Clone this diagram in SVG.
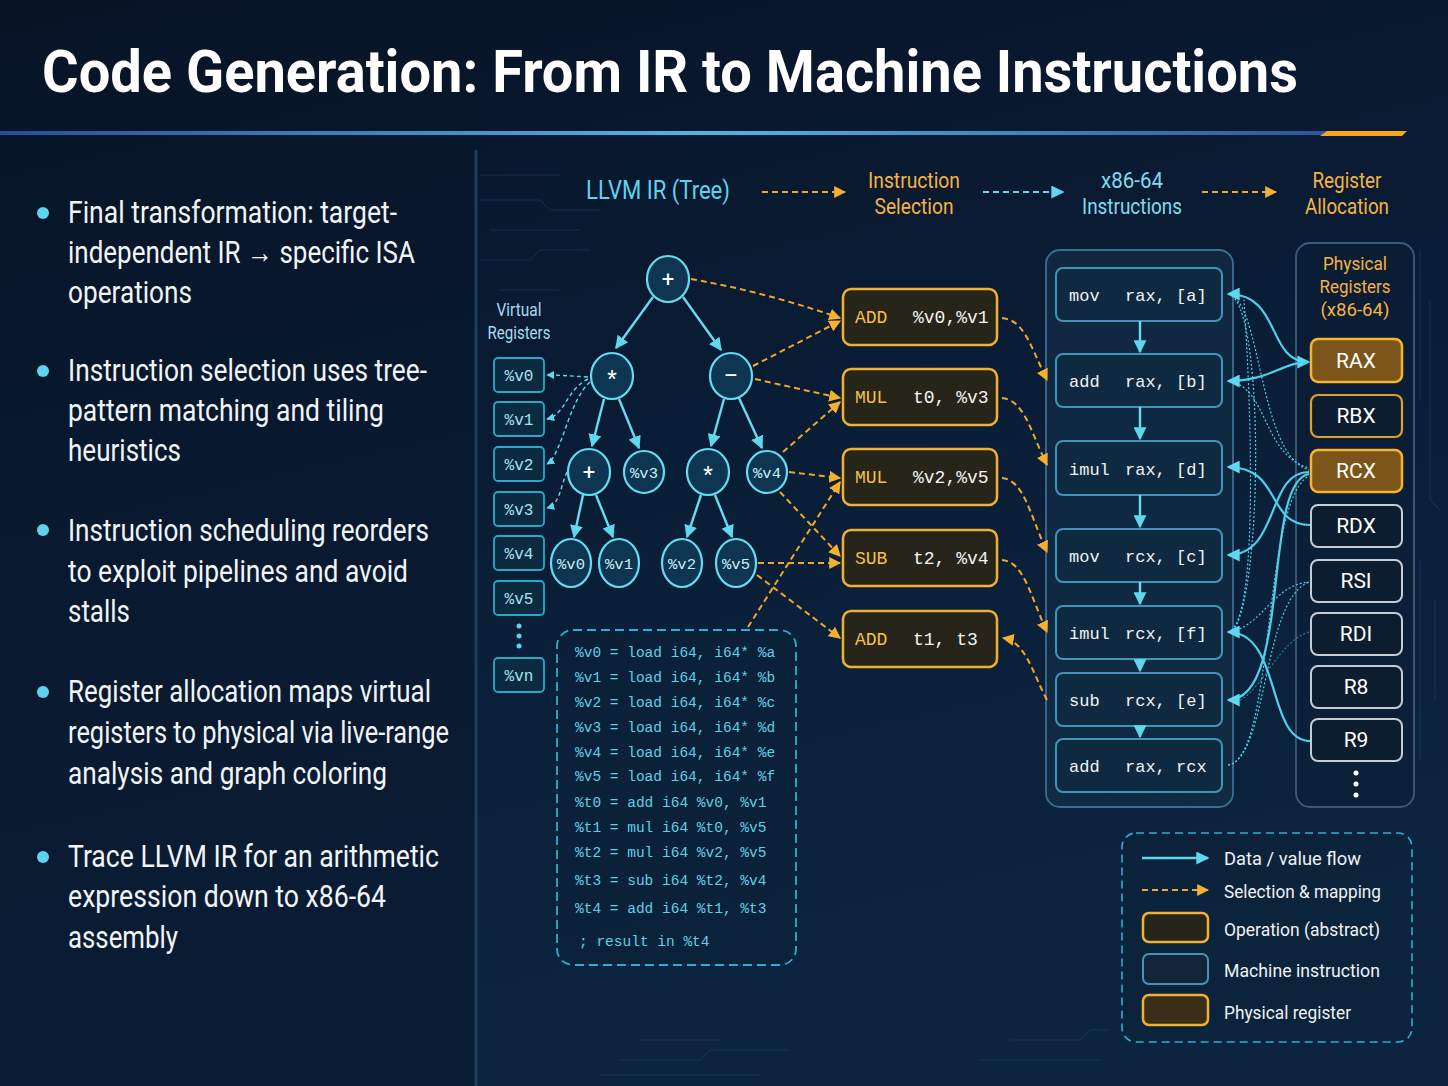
<svg xmlns="http://www.w3.org/2000/svg" width="1448" height="1086" viewBox="0 0 1448 1086">
<defs>
<linearGradient id="bg" x1="0" y1="0" x2="0.3" y2="1">
<stop offset="0" stop-color="#071326"/>
<stop offset="0.5" stop-color="#0a1d36"/>
<stop offset="1" stop-color="#0c2440"/>
</linearGradient>
<linearGradient id="hl" x1="0" y1="0" x2="1" y2="0">
<stop offset="0" stop-color="#2b4c9c"/>
<stop offset="0.5" stop-color="#4fb6e2"/>
<stop offset="1" stop-color="#2a4a98"/>
</linearGradient>
<marker id="ac" viewBox="0 0 10 10" refX="9" refY="5" markerWidth="13" markerHeight="13" markerUnits="userSpaceOnUse" orient="auto-start-reverse"><path d="M0,0 L10,5 L0,10 z" fill="#5fd8ee"/></marker>
<marker id="acs" viewBox="0 0 10 10" refX="9" refY="5" markerWidth="8" markerHeight="8" markerUnits="userSpaceOnUse" orient="auto-start-reverse"><path d="M0,0 L10,5 L0,10 z" fill="#5fd8ee"/></marker>
<marker id="ao" viewBox="0 0 10 10" refX="9" refY="5" markerWidth="12" markerHeight="12" markerUnits="userSpaceOnUse" orient="auto"><path d="M0,0 L10,5 L0,10 z" fill="#f5b030"/></marker>
<style>
.sans{font-family:"Liberation Sans Narrow","Roboto","Liberation Sans",sans-serif}
.mono{font-family:"Liberation Mono","DejaVu Sans Mono",monospace}
.title{font-size:60px;font-weight:bold;fill:#ffffff}
.bul{font-size:31px;fill:#f2f5f8}
.dot{fill:#5fd3ee}
.flc{font-size:25px;fill:#5fd3ee}
.flo{font-size:22px;fill:#f5b342;text-anchor:middle}
.flb{font-size:22px;fill:#7fdcf0;text-anchor:middle}
.vlab{font-size:18px;fill:#a8dcee;text-anchor:middle}
.vbox{fill:#0c2a40;stroke:#2aa8c8;stroke-width:1.8}
.vtxt{font-size:16px;fill:#a8e4f2;text-anchor:middle}
.node{fill:#0e3552;stroke:#66dcf0;stroke-width:2.2}
.ntxt{font-size:22px;fill:#ffffff;text-anchor:middle}
.ltxt{font-size:15.5px;fill:#c8f0fa;text-anchor:middle}
.edge{stroke:#66dcf0;stroke-width:2.4;fill:none}
.vdash{stroke:#5fd8ee;stroke-width:1.4;fill:none;stroke-dasharray:4 3}
.odash{stroke:#f0a82a;stroke-width:2;fill:none;stroke-dasharray:6 4}
.cdash{stroke:#5fd8ee;stroke-width:2;fill:none;stroke-dasharray:6 4}
.obox{fill:#27241a;stroke:#f0b030;stroke-width:2.5}
.oop{font-size:18px;fill:#f5c04a}
.oarg{font-size:18px;fill:#f4f4f4}
.panel{fill:#14304a;fill-opacity:0.6;stroke:#3d6d90;stroke-width:1.8}
.ibox{fill:#0f2940;stroke:#3f95b8;stroke-width:2}
.itxt{font-size:17px;fill:#f2f4f6}
.rpanel{fill:#0c1e33;fill-opacity:0.5;stroke:#3d5a78;stroke-width:1.8}
.rtitle{font-size:19px;fill:#f5b342;text-anchor:middle}
.rtxt{font-size:21px;fill:#ffffff;text-anchor:middle}
.rhot{fill:#7b5519;stroke:#f6b431;stroke-width:2.5}
.rwarm{fill:#0d1d30;stroke:#e0a030;stroke-width:2.2}
.rcold{fill:#0d1d30;stroke:#c5ccd4;stroke-width:2}
.conn{stroke:#4fd0ea;stroke-width:2.2;fill:none}
.dots{stroke:#4fd0ea;stroke-width:1.2;fill:none;stroke-dasharray:2 2}
.code{font-size:14.5px;fill:#5fd0e6}
.leg{font-size:19px;fill:#f0f2f4}
.deco{stroke:#2a5a80;stroke-width:1;fill:none;opacity:0.35}
</style>
</defs>

<rect width="1448" height="1086" fill="url(#bg)"/>
<rect x="0" y="0" width="476" height="1086" fill="#081629" opacity="0.45"/>

<g id="decoration">
<path class="deco" d="M480,175 H560 M480,200 H540 L550,210 H600 M490,230 H580 M480,260 H530 L540,250 H590 M500,290 H560"/>
<path class="deco" d="M620,1060 H700 L710,1050 H790 M640,1040 H720 M600,1075 H760 M1010,1040 H1080 L1090,1030 H1110 M980,1060 H1100"/>
<path class="deco" d="M1420,250 V400 M1430,300 V500 L1440,510 M1420,560 V760 M1435,600 V700"/>
<line x1="476" y1="150" x2="476" y2="1086" stroke="#1f3d5c" stroke-width="3"/>
</g>

<g id="title">
<text class="sans title" x="42" y="92" textLength="1256" lengthAdjust="spacingAndGlyphs">Code Generation: From IR to Machine Instructions</text>
<rect x="0" y="131" width="1400" height="4" fill="url(#hl)"/>
<path d="M1327,131 L1407,131 L1402,136 L1320,136 Z" fill="#f5a623"/>
</g>

<g id="bullets">
<circle class="dot" cx="43" cy="213" r="6"/>
<text class="sans bul" x="68" y="223" textLength="329" lengthAdjust="spacingAndGlyphs">Final transformation: target-</text>
<text class="sans bul" x="68" y="263" textLength="347" lengthAdjust="spacingAndGlyphs">independent IR → specific ISA</text>
<text class="sans bul" x="68" y="303" textLength="124" lengthAdjust="spacingAndGlyphs">operations</text>
<circle class="dot" cx="43" cy="371" r="6"/>
<text class="sans bul" x="68" y="381" textLength="359" lengthAdjust="spacingAndGlyphs">Instruction selection uses tree-</text>
<text class="sans bul" x="68" y="421" textLength="316" lengthAdjust="spacingAndGlyphs">pattern matching and tiling</text>
<text class="sans bul" x="68" y="461" textLength="113" lengthAdjust="spacingAndGlyphs">heuristics</text>
<circle class="dot" cx="43" cy="530" r="6"/>
<text class="sans bul" x="68" y="541" textLength="361" lengthAdjust="spacingAndGlyphs">Instruction scheduling reorders</text>
<text class="sans bul" x="68" y="582" textLength="340" lengthAdjust="spacingAndGlyphs">to exploit pipelines and avoid</text>
<text class="sans bul" x="68" y="622" textLength="62" lengthAdjust="spacingAndGlyphs">stalls</text>
<circle class="dot" cx="43" cy="692" r="6"/>
<text class="sans bul" x="68" y="702" textLength="363" lengthAdjust="spacingAndGlyphs">Register allocation maps virtual</text>
<text class="sans bul" x="68" y="743" textLength="381" lengthAdjust="spacingAndGlyphs">registers to physical via live-range</text>
<text class="sans bul" x="68" y="784" textLength="319" lengthAdjust="spacingAndGlyphs">analysis and graph coloring</text>
<circle class="dot" cx="43" cy="857" r="6"/>
<text class="sans bul" x="68" y="867" textLength="371" lengthAdjust="spacingAndGlyphs">Trace LLVM IR for an arithmetic</text>
<text class="sans bul" x="68" y="907" textLength="318" lengthAdjust="spacingAndGlyphs">expression down to x86-64</text>
<text class="sans bul" x="68" y="948" textLength="110" lengthAdjust="spacingAndGlyphs">assembly</text>
</g>

<g id="stages">
<text class="sans flc" x="586" y="199" textLength="144" lengthAdjust="spacingAndGlyphs">LLVM IR (Tree)</text>
<text class="sans flo" x="914" y="188" textLength="92" lengthAdjust="spacingAndGlyphs">Instruction</text>
<text class="sans flo" x="914" y="214" textLength="79" lengthAdjust="spacingAndGlyphs">Selection</text>
<text class="sans flb" x="1132" y="188" textLength="62" lengthAdjust="spacingAndGlyphs">x86-64</text>
<text class="sans flb" x="1132" y="214" textLength="100" lengthAdjust="spacingAndGlyphs">Instructions</text>
<text class="sans flo" x="1347" y="188" textLength="69" lengthAdjust="spacingAndGlyphs">Register</text>
<text class="sans flo" x="1347" y="214" textLength="84" lengthAdjust="spacingAndGlyphs">Allocation</text>
</g>

<g id="virtual-registers">
<text class="sans vlab" x="519" y="316" textLength="45" lengthAdjust="spacingAndGlyphs">Virtual</text>
<text class="sans vlab" x="519" y="339" textLength="63" lengthAdjust="spacingAndGlyphs">Registers</text>
<rect class="vbox" x="494" y="358" width="50" height="34" rx="4"/><text class="mono vtxt" x="519" y="381">%v0</text>
<rect class="vbox" x="494" y="402" width="50" height="34" rx="4"/><text class="mono vtxt" x="519" y="425">%v1</text>
<rect class="vbox" x="494" y="447" width="50" height="34" rx="4"/><text class="mono vtxt" x="519" y="470">%v2</text>
<rect class="vbox" x="494" y="492" width="50" height="34" rx="4"/><text class="mono vtxt" x="519" y="515">%v3</text>
<rect class="vbox" x="494" y="536" width="50" height="34" rx="4"/><text class="mono vtxt" x="519" y="559">%v4</text>
<rect class="vbox" x="494" y="581" width="50" height="34" rx="4"/><text class="mono vtxt" x="519" y="604">%v5</text>
<circle cx="519" cy="626" r="2.5" fill="#5fd3ee"/><circle cx="519" cy="636" r="2.5" fill="#5fd3ee"/><circle cx="519" cy="646" r="2.5" fill="#5fd3ee"/>
<rect class="vbox" x="494" y="658" width="50" height="34" rx="4"/><text class="mono vtxt" x="519" y="681">%vn</text>
</g>

<g id="tree-nodes">
<g id="n-root"><ellipse class="node" cx="668" cy="279" rx="21" ry="23"/><text class="sans ntxt" x="668" y="287">+</text></g>
<g id="n-mul1"><ellipse class="node" cx="612" cy="376" rx="21" ry="23"/><text class="sans ntxt" x="612" y="386">*</text></g>
<g id="n-sub"><ellipse class="node" cx="731" cy="376" rx="21" ry="23"/><text class="sans ntxt" x="731" y="383">–</text></g>
<g id="n-add2"><ellipse class="node" cx="589" cy="472" rx="21" ry="23"/><text class="sans ntxt" x="589" y="480">+</text></g>
<g id="n-v3"><ellipse class="node" cx="644" cy="472" rx="20" ry="21"/><text class="mono ltxt" x="644" y="478">%v3</text></g>
<g id="n-mul2"><ellipse class="node" cx="708" cy="472" rx="21" ry="23"/><text class="sans ntxt" x="708" y="482">*</text></g>
<g id="n-v4"><ellipse class="node" cx="767" cy="472" rx="20" ry="21"/><text class="mono ltxt" x="767" y="478">%v4</text></g>
<g id="n-v0"><ellipse class="node" cx="571" cy="563" rx="20" ry="24"/><text class="mono ltxt" x="571" y="569">%v0</text></g>
<g id="n-v1"><ellipse class="node" cx="619" cy="563" rx="20" ry="24"/><text class="mono ltxt" x="619" y="569">%v1</text></g>
<g id="n-v2"><ellipse class="node" cx="682" cy="563" rx="20" ry="24"/><text class="mono ltxt" x="682" y="569">%v2</text></g>
<g id="n-v5"><ellipse class="node" cx="736" cy="563" rx="20" ry="24"/><text class="mono ltxt" x="736" y="569">%v5</text></g>
</g>

<g id="ir-code">
<rect x="557" y="630" width="239" height="335" rx="16" fill="#0b2238" fill-opacity="0.6" stroke="#2ab0d0" stroke-width="1.8" stroke-dasharray="9 5"/>
<text class="mono code" x="575" y="657">%v0 = load i64, i64* %a</text>
<text class="mono code" x="575" y="682">%v1 = load i64, i64* %b</text>
<text class="mono code" x="575" y="707">%v2 = load i64, i64* %c</text>
<text class="mono code" x="575" y="732">%v3 = load i64, i64* %d</text>
<text class="mono code" x="575" y="757">%v4 = load i64, i64* %e</text>
<text class="mono code" x="575" y="781">%v5 = load i64, i64* %f</text>
<text class="mono code" x="575" y="807">%t0 = add i64 %v0, %v1</text>
<text class="mono code" x="575" y="832">%t1 = mul i64 %t0, %v5</text>
<text class="mono code" x="575" y="857">%t2 = mul i64 %v2, %v5</text>
<text class="mono code" x="575" y="885">%t3 = sub i64 %t2, %v4</text>
<text class="mono code" x="575" y="913">%t4 = add i64 %t1, %t3</text>
<text class="mono code" x="579" y="946">; result in %t4</text>
</g>

<g id="operations">
<g id="op-add1"><rect class="obox" x="843" y="289" width="154" height="56" rx="8"/><text class="mono oop" x="855" y="323">ADD</text><text class="mono oarg" x="913" y="323">%v0,%v1</text></g>
<g id="op-mul1"><rect class="obox" x="843" y="369" width="154" height="56" rx="8"/><text class="mono oop" x="855" y="403">MUL</text><text class="mono oarg" x="913" y="403">t0, %v3</text></g>
<g id="op-mul2"><rect class="obox" x="843" y="449" width="154" height="56" rx="8"/><text class="mono oop" x="855" y="483">MUL</text><text class="mono oarg" x="913" y="483">%v2,%v5</text></g>
<g id="op-sub"><rect class="obox" x="843" y="530" width="154" height="56" rx="8"/><text class="mono oop" x="855" y="564">SUB</text><text class="mono oarg" x="913" y="564">t2, %v4</text></g>
<g id="op-add2"><rect class="obox" x="843" y="611" width="154" height="56" rx="8"/><text class="mono oop" x="855" y="645">ADD</text><text class="mono oarg" x="913" y="645">t1, t3</text></g>
</g>

<g id="machine-instructions">
<rect class="panel" x="1046" y="250" width="187" height="557" rx="14"/>
<g id="mi-1"><rect class="ibox" x="1056" y="268" width="166" height="53" rx="7"/><text class="mono itxt" x="1069" y="301">mov</text><text class="mono itxt" x="1125" y="301">rax, [a]</text></g>
<g id="mi-2"><rect class="ibox" x="1056" y="354" width="166" height="53" rx="7"/><text class="mono itxt" x="1069" y="387">add</text><text class="mono itxt" x="1125" y="387">rax, [b]</text></g>
<g id="mi-3"><rect class="ibox" x="1056" y="441" width="166" height="54" rx="7"/><text class="mono itxt" x="1069" y="475">imul</text><text class="mono itxt" x="1125" y="475">rax, [d]</text></g>
<g id="mi-4"><rect class="ibox" x="1056" y="529" width="166" height="53" rx="7"/><text class="mono itxt" x="1069" y="562">mov</text><text class="mono itxt" x="1125" y="562">rcx, [c]</text></g>
<g id="mi-5"><rect class="ibox" x="1056" y="606" width="166" height="53" rx="7"/><text class="mono itxt" x="1069" y="639">imul</text><text class="mono itxt" x="1125" y="639">rcx, [f]</text></g>
<g id="mi-6"><rect class="ibox" x="1056" y="673" width="166" height="53" rx="7"/><text class="mono itxt" x="1069" y="706">sub</text><text class="mono itxt" x="1125" y="706">rcx, [e]</text></g>
<g id="mi-7"><rect class="ibox" x="1056" y="739" width="166" height="53" rx="7"/><text class="mono itxt" x="1069" y="772">add</text><text class="mono itxt" x="1125" y="772">rax, rcx</text></g>
</g>

<g id="physical-registers">
<rect class="rpanel" x="1296" y="243" width="118" height="564" rx="14"/>
<text class="sans rtitle" x="1355" y="270" textLength="64" lengthAdjust="spacingAndGlyphs">Physical</text>
<text class="sans rtitle" x="1355" y="293" textLength="71" lengthAdjust="spacingAndGlyphs">Registers</text>
<text class="sans rtitle" x="1355" y="316" textLength="69" lengthAdjust="spacingAndGlyphs">(x86-64)</text>
<g id="r-rax"><rect class="rhot" x="1311" y="339" width="91" height="43" rx="7"/><text class="sans rtxt" x="1356" y="368">RAX</text></g>
<g id="r-rbx"><rect class="rwarm" x="1311" y="395" width="91" height="42" rx="7"/><text class="sans rtxt" x="1356" y="423">RBX</text></g>
<g id="r-rcx"><rect class="rhot" x="1311" y="450" width="91" height="42" rx="7"/><text class="sans rtxt" x="1356" y="478">RCX</text></g>
<g id="r-rdx"><rect class="rcold" x="1311" y="505" width="91" height="42" rx="7"/><text class="sans rtxt" x="1356" y="533">RDX</text></g>
<g id="r-rsi"><rect class="rcold" x="1311" y="560" width="91" height="42" rx="7"/><text class="sans rtxt" x="1356" y="588">RSI</text></g>
<g id="r-rdi"><rect class="rcold" x="1311" y="613" width="91" height="42" rx="7"/><text class="sans rtxt" x="1356" y="641">RDI</text></g>
<g id="r-r8"><rect class="rcold" x="1311" y="666" width="91" height="42" rx="7"/><text class="sans rtxt" x="1356" y="694">R8</text></g>
<g id="r-r9"><rect class="rcold" x="1311" y="719" width="91" height="42" rx="7"/><text class="sans rtxt" x="1356" y="747">R9</text></g>
<circle cx="1356" cy="773" r="2.5" fill="#ffffff"/><circle cx="1356" cy="784" r="2.5" fill="#ffffff"/><circle cx="1356" cy="795" r="2.5" fill="#ffffff"/>
</g>

<g id="connectors">
<path class="odash" d="M762,192 H845" marker-end="url(#ao)"/>
<path class="cdash" d="M983,192 H1063" marker-end="url(#ac)"/>
<path class="odash" d="M1202,192 H1276" marker-end="url(#ao)"/>
<path class="edge" d="M653,297 L616,348" marker-end="url(#ac)"/>
<path class="edge" d="M683,297 L721,350" marker-end="url(#ac)"/>
<path class="edge" d="M604,399 L592,446" marker-end="url(#ac)"/>
<path class="edge" d="M619,399 L639,448" marker-end="url(#ac)"/>
<path class="edge" d="M724,399 L711,446" marker-end="url(#ac)"/>
<path class="edge" d="M739,398 L762,448" marker-end="url(#ac)"/>
<path class="edge" d="M583,495 L574,537" marker-end="url(#ac)"/>
<path class="edge" d="M596,495 L613,537" marker-end="url(#ac)"/>
<path class="edge" d="M701,495 L687,537" marker-end="url(#ac)"/>
<path class="edge" d="M715,495 L732,537" marker-end="url(#ac)"/>
<path class="vdash" d="M588,377 C570,376 560,375 547,375" marker-end="url(#acs)"/>
<path class="vdash" d="M588,379 C566,390 566,414 547,419" marker-end="url(#acs)"/>
<path class="vdash" d="M590,382 C568,402 562,455 547,464" marker-end="url(#acs)"/>
<path class="vdash" d="M567,472 C560,488 560,504 547,508" marker-end="url(#acs)"/>
<path class="odash" d="M691,279 Q765,292 840,318" marker-end="url(#ao)"/>
<path class="odash" d="M753,366 L840,321" marker-end="url(#ao)"/>
<path class="odash" d="M755,379 L840,398" marker-end="url(#ao)"/>
<path class="odash" d="M783,452 L840,402" marker-end="url(#ao)"/>
<path class="odash" d="M789,472 L840,478" marker-end="url(#ao)"/>
<path class="odash" d="M780,492 L840,556" marker-end="url(#ao)"/>
<path class="odash" d="M758,563 L840,563" marker-end="url(#ao)"/>
<path class="odash" d="M757,575 L840,638" marker-end="url(#ao)"/>
<path class="odash" d="M748,627 L840,482" marker-end="url(#ao)"/>
<path class="odash" d="M1002,318 C1024,320 1030,345 1047,380" marker-end="url(#ao)"/>
<path class="odash" d="M1002,398 C1024,400 1030,430 1047,465" marker-end="url(#ao)"/>
<path class="odash" d="M1002,478 C1024,480 1030,515 1047,552" marker-end="url(#ao)"/>
<path class="odash" d="M1002,560 C1024,562 1030,595 1047,632" marker-end="url(#ao)"/>
<path class="odash" d="M1047,700 C1032,672 1026,642 1003,638" marker-end="url(#ao)"/>
<path class="edge" d="M1140,321 V352" marker-end="url(#ac)"/>
<path class="edge" d="M1140,407 V439" marker-end="url(#ac)"/>
<path class="edge" d="M1140,495 V527" marker-end="url(#ac)"/>
<path class="edge" d="M1140,582 V604" marker-end="url(#ac)"/>
<path class="edge" d="M1140,659 V671" marker-end="url(#ac)"/>
<path class="edge" d="M1140,726 V737" marker-end="url(#ac)"/>
<path class="dots" d="M1228,294 C1262,300 1258,455 1309,470"/>
<path class="dots" d="M1228,381 C1268,386 1262,455 1309,468"/>
<path class="dots" d="M1232,296 C1265,320 1262,600 1232,632"/>
<path class="dots" d="M1228,765 C1275,760 1262,500 1309,476"/>
<path class="dots" d="M1228,765 C1268,758 1262,600 1309,582"/>
<path class="dots" d="M1228,632 C1262,628 1272,585 1309,582"/>
<path class="dots" d="M1228,632 C1258,625 1252,420 1244,300"/>
<path class="dots" d="M1240,700 C1262,690 1280,640 1309,632" opacity="0.5"/>
<path class="conn" d="M1228,294 C1282,294 1266,362 1309,362" marker-start="url(#ac)" marker-end="url(#ac)"/>
<path class="conn" d="M1228,381 C1270,381 1282,362 1309,362" marker-start="url(#ac)"/>
<path class="conn" d="M1228,467 C1282,467 1266,525 1310,525" marker-start="url(#ac)"/>
<path class="conn" d="M1228,555 C1280,555 1266,472 1309,472" marker-start="url(#ac)"/>
<path class="conn" d="M1228,632 C1282,632 1266,741 1310,741" marker-start="url(#ac)"/>
<path class="conn" d="M1228,700 C1292,700 1262,482 1309,474" marker-start="url(#ac)"/>
</g>

<g id="legend">
<rect x="1122" y="833" width="290" height="209" rx="14" fill="#0b2238" fill-opacity="0.5" stroke="#2ab0d0" stroke-width="1.6" stroke-dasharray="8 5"/>
<path d="M1142,858 H1208" stroke="#5fd8ee" stroke-width="2.4" marker-end="url(#ac)"/>
<text class="sans leg" x="1224" y="865" textLength="137" lengthAdjust="spacingAndGlyphs">Data / value flow</text>
<path class="odash" d="M1142,890 H1208" marker-end="url(#ao)"/>
<text class="sans leg" x="1224" y="898" textLength="157" lengthAdjust="spacingAndGlyphs">Selection &amp; mapping</text>
<rect class="obox" x="1143" y="913" width="65" height="29" rx="6"/>
<text class="sans leg" x="1224" y="936" textLength="156" lengthAdjust="spacingAndGlyphs">Operation (abstract)</text>
<rect x="1143" y="954" width="65" height="30" rx="6" fill="#12253a" stroke="#4a90b8" stroke-width="2"/>
<text class="sans leg" x="1224" y="977" textLength="156" lengthAdjust="spacingAndGlyphs">Machine instruction</text>
<rect x="1143" y="995" width="65" height="30" rx="6" fill="#3a2e18" stroke="#f0b030" stroke-width="2.5"/>
<text class="sans leg" x="1224" y="1019" textLength="127" lengthAdjust="spacingAndGlyphs">Physical register</text>
</g>
</svg>
